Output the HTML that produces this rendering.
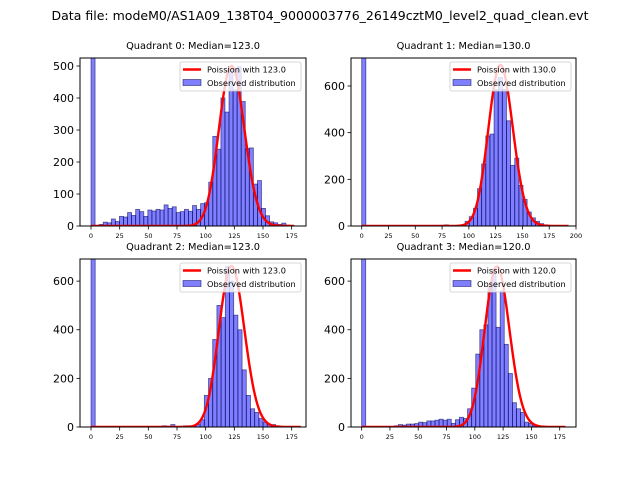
<!DOCTYPE html>
<html><head><meta charset="utf-8"><style>
html,body{margin:0;padding:0;background:#fff;}
svg{display:block;font-family:"DejaVu Sans","Liberation Sans",sans-serif;}
</style></head><body>
<svg id="fig" width="640" height="480" viewBox="0 0 640 480">
<text x="320" y="20" text-anchor="middle" font-size="12" textLength="537" lengthAdjust="spacingAndGlyphs">Data file: modeM0/AS1A09_138T04_9000003776_26149cztM0_level2_quad_clean.evt</text>
</svg>
<script>
const q0Counts=[3000,2,5,12,10,22,14,30,28,42,33,52,45,30,50,47,52,50,66,55,60,42,45,52,46,64,52,70,73,137,280,240,400,356,490,425,498,389,242,244,131,142,55,32,13,10,5,9,3,2];
const q1Counts=[3000,0,0,0,0,0,0,0,0,0,0,0,0,0,0,0,0,0,2,3,5,2,0,0,5,20,40,76,160,266,386,394,583,637,586,451,260,291,174,114,60,35,20,10,5,3,1,1,0,1];
const q2Counts=[3000,0,0,0,0,0,0,0,0,0,0,0,0,0,0,0,0,5,3,10,2,3,5,5,5,10,30,130,200,360,500,450,660,600,460,400,235,130,75,60,35,20,10,10,5,2,1,0,0,1];
const q3Counts=[3000,0,0,0,0,0,0,0,5,10,8,12,12,14,20,18,25,25,28,32,28,32,15,30,40,35,75,160,300,400,420,580,650,410,560,340,220,100,75,60,20,15,5,2,1,0,0,0,0,1];
const dataMax=[177,193,183,180];
const lambdas=[123,130,123,120];
const peaks=[500,690,662,660];
const yTicks=[[0,100,200,300,400,500],[0,200,400,600],[0,200,400,600],[0,200,400,600]];
const xTicks=[[0,25,50,75,100,125,150,175],[0,25,50,75,100,125,150,175,200],[0,25,50,75,100,125,150,175],[0,25,50,75,100,125,150,175]];
const titles=["Quadrant 0: Median=123.0","Quadrant 1: Median=130.0","Quadrant 2: Median=123.0","Quadrant 3: Median=120.0"];
const allCounts=[q0Counts,q1Counts,q2Counts,q3Counts];
const boxes=[[80,58,306,226],[351,58,576,226],[80,259,306,427],[351,259,576,427]];
const xlims=[[-9.6,187.5],[-10,200],[-9.6,187.5],[-9.4,189.4]];
const ylims=[[0,525],[0,720],[0,691],[0,691]];
const NS="http://www.w3.org/2000/svg";
const fig=document.getElementById('fig');
function mk(tag,attrs,parent){const e=document.createElementNS(NS,tag);for(const k in attrs)e.setAttribute(k,attrs[k]);(parent||fig).appendChild(e);return e;}
function lpmf(k,l){let s=0;for(let i=2;i<=k;i++)s+=Math.log(i);return k*Math.log(l)-l-s;}
for(let q=0;q<4;q++){
  const [L,T,R,B]=boxes[q];const [x0,x1]=xlims[q];const [y0,y1]=ylims[q];
  const X=v=>L+(v-x0)/(x1-x0)*(R-L);
  const Y=v=>B-(v-y0)/(y1-y0)*(B-T);
  const g=mk('g',{});
  
  
  const defs=mk('defs',{},g);
  const cp=mk('clipPath',{id:'clip'+q},defs);
  mk('rect',{x:L,y:T,width:R-L,height:B-T},cp);
  const plot=mk('g',{'clip-path':'url(#clip'+q+')'},g);
  const counts=allCounts[q];const n=counts.length;const bw=dataMax[q]/n;
  for(let i=0;i<n;i++){
    if(counts[i]<=0)continue;
    const r=mk('rect',{x:X(i*bw),y:Y(counts[i]),width:X((i+1)*bw)-X(i*bw),height:Y(0)-Y(counts[i]),fill:'rgba(0,0,255,0.5)',stroke:'rgba(0,0,80,0.6)','stroke-width':0.8},plot);
    
    
  }
  const lam=lambdas[q];const ref=lpmf(Math.floor(lam),lam);
  let d='';
  for(let k=0;k<=Math.round(dataMax[q]);k++){const v=peaks[q]*Math.exp(lpmf(k,lam)-ref);d+=(k?'L':'M')+X(k).toFixed(2)+','+Y(v).toFixed(2);}
  const pl=mk('path',{d:d,fill:'none',stroke:'red','stroke-width':2.4,'stroke-linejoin':'round'},plot);
  
  
  const fr=mk('rect',{x:L,y:T,width:R-L,height:B-T,fill:'none',stroke:'#000','stroke-width':1},g);
  
  
  const tt=mk('text',{x:(L+R)/2,y:T-9,'text-anchor':'middle','font-size':9.8},g);
  tt.textContent=titles[q];
  
  
  for(const v of yTicks[q]){const y=Y(v);
    mk('line',{x1:L-3.5,x2:L,y1:y,y2:y,stroke:'#000','stroke-width':0.8},g);
    const t=mk('text',{x:L-6,y:y+4,'text-anchor':'end','font-size':11},g);t.textContent=v;
    
    }
  for(const v of xTicks[q]){const x=X(v);
    mk('line',{x1:x,x2:x,y1:B,y2:B+3.5,stroke:'#000','stroke-width':0.8},g);
    const t=mk('text',{x:x,y:B+12,'text-anchor':'middle','font-size':6.5},g);t.textContent=v;
    
    }
  const lg=mk('g',{},g);
  
  
  const lx=R-126,ly=T+4;
  mk('rect',{x:lx,y:ly,width:121,height:29,fill:'rgba(255,255,255,0.8)',stroke:'#ccc','stroke-width':0.8,rx:2},lg);
  mk('line',{x1:lx+3,x2:lx+21,y1:ly+7.5,y2:ly+7.5,stroke:'red','stroke-width':2.4},lg);
  const t1=mk('text',{x:lx+27,y:ly+10.5,'font-size':8.2},lg);t1.textContent='Poission with '+lam.toFixed(1);
  
  
  mk('rect',{x:lx+3,y:ly+17.5,width:18,height:6,fill:'rgba(0,0,255,0.5)',stroke:'rgba(0,0,80,0.6)','stroke-width':0.8},lg);
  const t2=mk('text',{x:lx+27,y:ly+24,'font-size':8.2},lg);t2.textContent='Observed distribution';
  
  
}
</script>
</body></html>
